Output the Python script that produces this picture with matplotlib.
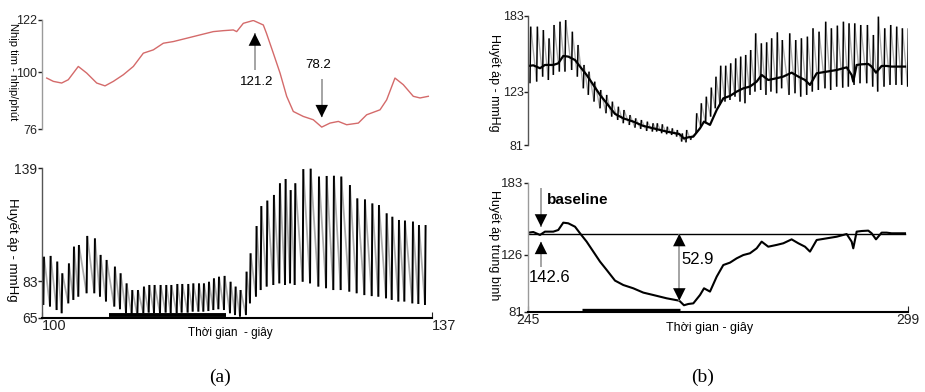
import numpy as np
import matplotlib
matplotlib.use('Agg')
import matplotlib.pyplot as plt
from matplotlib.collections import LineCollection

plt.rcParams['font.family'] = ['Liberation Sans', 'DejaVu Sans']

# (a) top: heart rate (beats/min) vs time (s)
hr_t = [100.42, 101.05, 101.84, 102.47, 103.42, 104.22, 105.17, 105.96, 106.75, 107.70,
        108.65, 109.60, 110.55, 111.50, 112.45, 113.72, 114.98, 116.25, 117.20, 118.15,
        118.47, 119.10, 120.05, 121.00, 121.30, 121.95, 122.59, 123.22, 123.85, 124.80,
        125.75, 126.55, 127.34, 128.13, 128.92, 130.03, 130.82, 132.09, 132.72, 133.51,
        134.30, 135.25, 135.89, 136.68]
hr_v = [97.5, 96.1, 95.4, 96.8, 102.4, 99.6, 95.4, 94.2, 96.1, 98.9,
        102.4, 108.0, 109.4, 112.2, 112.9, 114.3, 115.7, 117.1, 117.5, 117.8,
        117.1, 120.6, 121.8, 119.9, 116.4, 108.0, 99.6, 89.8, 83.4, 81.3,
        79.9, 76.8, 78.5, 79.2, 77.8, 78.5, 82.0, 84.1, 88.3, 97.5,
        94.7, 89.8, 89.1, 89.8]

# (a) bottom: beat onsets, systolic and diastolic pressure (mmHg)
bpa_t = [100.10, 100.73, 101.36, 101.84, 102.47, 102.95, 103.42, 104.21, 104.94, 105.48,
         106.05, 106.84, 107.38, 107.95, 108.49, 109.03, 109.60, 110.11, 110.61, 111.18,
         111.72, 112.20, 112.77, 113.24, 113.81, 114.29, 114.83, 115.30, 115.78, 116.25,
         116.73, 117.26, 117.83, 118.31, 118.78, 119.35, 119.73, 120.30, 120.75, 121.32,
         121.95, 122.52, 123.06, 123.54, 123.98, 124.74, 125.44, 126.23, 126.96, 127.65,
         128.35, 129.17, 129.87, 130.60, 131.30, 131.93, 132.66, 133.20, 133.83, 134.40,
         135.16, 135.73, 136.36]
bpa_sys = [95.2, 95.6, 92.8, 87.0, 91.9, 100.2, 101.0, 105.5, 104.3, 96.1,
           93.6, 90.3, 87.0, 82.0, 78.7, 78.7, 80.4, 81.2, 81.2, 81.2,
           81.2, 81.2, 81.7, 81.7, 81.7, 82.0, 82.0, 82.0, 82.8, 84.5,
           85.3, 85.7, 82.8, 80.4, 78.7, 87.8, 96.9, 110.4, 120.3, 123.0,
           125.8, 131.6, 133.7, 128.2, 131.6, 138.6, 138.8, 134.9, 135.2, 135.3,
           134.9, 130.7, 124.1, 123.6, 121.6, 120.8, 116.7, 115.0, 113.4, 113.1,
           112.6, 110.9, 110.9]
bpa_dia = [71.3, 70.5, 68.8, 67.2, 72.1, 73.8, 75.4, 77.1, 77.1, 75.4,
           73.0, 70.5, 69.2, 67.2, 66.3, 66.3, 67.2, 67.5, 67.2, 67.2,
           67.5, 67.2, 67.2, 67.5, 67.5, 68.0, 68.0, 68.0, 68.3, 68.8,
           69.2, 68.8, 67.2, 66.3, 65.5, 66.3, 72.1, 75.4, 78.7, 80.4,
           81.2, 82.0, 81.2, 82.0, 81.2, 82.8, 82.0, 80.4, 79.6, 78.7,
           78.7, 77.9, 77.1, 76.2, 75.7, 75.4, 74.6, 73.8, 73.0, 73.0,
           72.1, 71.8, 71.3]
bar_a = (106.3, 117.5)

# (b) top: beats
bpb_t = [245.24, 246.19, 247.04, 247.85, 248.56, 249.41, 250.21, 251.16, 251.97, 252.82,
         253.53, 254.34, 255.19, 256.04, 256.85, 257.70, 258.50, 259.36, 260.16, 260.97,
         261.82, 262.63, 263.24, 263.95, 264.66, 265.37, 266.08, 266.79, 267.41, 268.07,
         268.83, 269.49, 270.20, 270.91, 271.57, 272.24, 272.95, 273.66, 274.37, 275.08,
         275.79, 276.50, 277.21, 278.02, 278.77, 279.48, 280.29, 281.00, 282.05, 282.90,
         283.71, 284.56, 285.36, 286.22, 287.16, 287.97, 288.82, 289.68, 290.48, 291.29,
         292.14, 293.09, 293.94, 294.65, 295.55, 296.40, 297.25, 298.06, 298.91]
bpb_sys = [174.6, 174.6, 171.9, 165.3, 175.9, 178.5, 179.8, 170.6, 160.1, 144.3,
           139.0, 131.1, 124.5, 120.6, 115.3, 111.3, 108.7, 104.7, 102.1, 100.8,
           99.5, 98.2, 98.2, 97.4, 95.5, 94.2, 92.9, 90.2, 92.9, 87.6,
           106.1, 114.0, 119.2, 126.4, 135.0, 143.7, 143.7, 145.6, 149.5, 150.9,
           152.2, 156.1, 169.3, 161.4, 162.2, 165.4, 170.1, 164.0, 169.3, 164.0,
           165.4, 166.7, 173.3, 170.6, 178.5, 173.3, 175.4, 178.5, 177.2, 177.2,
           175.9, 175.9, 168.0, 182.5, 173.3, 175.9, 174.6, 173.3, 173.3]
bpb_dia = [129.8, 131.1, 135.0, 132.4, 136.4, 139.0, 139.0, 140.3, 135.0, 125.8,
           120.6, 115.3, 110.0, 106.1, 103.4, 100.8, 98.2, 96.8, 94.7, 93.7,
           92.1, 91.6, 91.6, 90.3, 89.5, 88.9, 87.6, 83.7, 83.1, 85.0,
           90.3, 95.5, 98.2, 103.4, 110.0, 112.7, 115.3, 116.6, 119.2, 115.3,
           114.0, 120.6, 123.2, 124.5, 120.6, 123.2, 121.9, 125.8, 120.6, 121.9,
           119.2, 120.6, 123.2, 124.5, 125.8, 124.5, 127.1, 126.3, 127.1, 128.5,
           129.8, 129.8, 127.1, 123.2, 127.1, 128.5, 128.5, 128.5, 127.1]

# (b) mean arterial pressure
map_t = [245.0, 245.71, 246.66, 247.37, 248.55, 249.26, 249.97, 250.68, 251.64, 252.35,
         253.29, 254.24, 255.19, 256.14, 257.32, 258.50, 259.92, 261.34, 262.76, 264.66,
         266.46, 267.12, 267.74, 268.45, 269.40, 269.97, 270.82, 271.77, 272.71, 273.66,
         274.61, 275.55, 276.50, 277.45, 278.16, 279.10, 280.29, 281.24, 282.42, 283.37,
         284.32, 285.03, 285.98, 287.40, 288.82, 290.24, 290.95, 291.18, 291.66, 292.37,
         293.31, 293.79, 294.41, 295.21, 295.92, 296.63, 297.82, 298.53]
map_v = [143.5, 144.0, 141.7, 144.3, 144.3, 145.6, 151.4, 150.9, 148.2, 143.0,
         136.4, 128.5, 120.6, 114.0, 105.6, 102.1, 99.5, 96.1, 94.2, 91.6,
         89.7, 86.1, 87.1, 87.6, 94.2, 99.5, 96.9, 108.7, 117.9, 119.8,
         123.2, 125.8, 127.2, 131.1, 136.4, 132.4, 133.8, 135.1, 138.2, 135.1,
         132.4, 128.5, 137.7, 139.0, 140.3, 142.4, 136.4, 131.1, 144.3, 144.8,
         145.1, 143.0, 138.2, 143.5, 143.5, 143.0, 143.0, 143.0]
baseline = 142.6
drop = 52.9
bar_b = (252.6, 266.5)

W, H = 925, 392
fig = plt.figure(figsize=(W / 100, H / 100), dpi=100)


def px_axes(x0, y0, x1, y1):
    # axes box given in pixel coords (top-left origin)
    return fig.add_axes([x0 / W, 1 - y1 / H, (x1 - x0) / W, (y1 - y0) / H])


def ftext(x, y, s, **kw):
    fig.text(x / W, 1 - y / H, s, **kw)


def beats(ax, t, sys_, dia, up, lw=1.4):
    rise = [[(t[i], dia[i]), (t[i] + up, sys_[i])] for i in range(len(t))]
    fall = [[(t[i] + up, sys_[i]), (t[i + 1], dia[i + 1])] for i in range(len(t) - 1)]
    ax.add_collection(LineCollection(fall, colors='#ababab', linewidths=lw * 0.9))
    ax.add_collection(LineCollection(rise, colors='black', linewidths=lw))


def arrow(ax, x, tail, tip, both=False):
    ax.plot([x, x], [tail, tip], color='#8c8c8c', lw=1.1, solid_capstyle='butt')
    style = '<|-|>' if both else '-|>'
    ax.annotate('', xy=(x, tip), xytext=(x, tail),
                arrowprops=dict(arrowstyle=style + ',head_length=0.9,head_width=0.45',
                                color='black', lw=0, shrinkA=0, shrinkB=0))


def style_axes(ax, spine_col, ysize, bottom=False):
    for s in ['top', 'right']:
        ax.spines[s].set_visible(False)
    ax.spines['left'].set_color(spine_col)
    ax.spines['left'].set_linewidth(1.0)
    if bottom:
        ax.spines['bottom'].set_color('black')
        ax.spines['bottom'].set_linewidth(1.5)
    else:
        ax.spines['bottom'].set_visible(False)
        ax.set_xticks([])
    ax.tick_params(axis='y', direction='out', length=3, width=1, pad=0.5,
                   labelsize=ysize, colors='#222222')
    ax.patch.set_alpha(0)


# ---- (a) top
ax1 = px_axes(42.3, 20, 431.7, 129)
ax1.plot(hr_t, hr_v, color='#d46a6a', lw=1.0)
ax1.set_xlim(100, 137)
ax1.set_ylim(76, 122)
ax1.set_yticks([76, 100, 122])
style_axes(ax1, '#9a9a9a', 9)
arrow(ax1, 120.2, 100.9, 116.4)
arrow(ax1, 126.55, 97.0, 80.9)
ax1.text(120.37, 96.0, '121.2', ha='center', va='center', fontsize=9.5)
ax1.text(126.23, 103.0, '78.2', ha='center', va='center', fontsize=9.5)

# ---- (a) bottom
ax2 = px_axes(42.3, 168.3, 431.7, 317.7)
beats(ax2, bpa_t, bpa_sys, bpa_dia, 0.06)
ax2.plot(bar_a, [66.2, 66.2], color='black', lw=2.8, solid_capstyle='butt')
ax2.set_xlim(100, 137)
ax2.set_ylim(65, 139)
ax2.set_yticks([65, 83, 139])
style_axes(ax2, '#555555', 10, bottom=True)
ax2.set_xticks([100, 137])
ax2.tick_params(axis='x', direction='in', length=4, pad=1, labelsize=10.5, colors='#222222')
for lab in ax2.get_xticklabels():
    lab.set_ha('left')

# ---- (b) top
ax3 = px_axes(528.3, 16, 908.3, 145)
beats(ax3, bpb_t, bpb_sys, bpb_dia, 0.1, lw=1.1)
ax3.plot(map_t, map_v, color='black', lw=1.6)
ax3.set_xlim(245, 299)
ax3.set_ylim(81, 183)
ax3.set_yticks([81, 123, 183])
style_axes(ax3, '#555555', 9)

# ---- (b) bottom
ax4 = px_axes(528.3, 182.7, 908.3, 311.7)
ax4.axhline(baseline, color='black', lw=1.0, xmax=0.99)
ax4.plot(map_t, map_v, color='black', lw=1.5)
ax4.plot(bar_b, [82.4, 82.4], color='black', lw=2.4, solid_capstyle='butt')
ax4.set_xlim(245, 299)
ax4.set_ylim(81, 183)
ax4.set_yticks([81, 126, 183])
style_axes(ax4, '#9a9a9a', 9.5, bottom=True)
ax4.set_xticks([245, 299])
ax4.tick_params(axis='x', direction='in', length=4, pad=1, labelsize=10, colors='#222222')
arrow(ax4, 246.8, 178.6, 148.2)
arrow(ax4, 246.8, 116.6, 136.4)
arrow(ax4, 266.46, baseline - drop, baseline, both=True)
ax4.text(247.7, 169.3, 'baseline', ha='left', va='center', fontsize=11, fontweight='bold')
ax4.text(248.0, 107.7, '142.6', ha='center', va='center', fontsize=12)
ax4.text(269.1, 121.9, '52.9', ha='center', va='center', fontsize=12)

# ---- axis labels
ftext(13, 72, 'Nhịp tim - nhịp/phút', rotation=270, ha='center', va='center', fontsize=8)
ftext(12, 250, 'Huyết áp - mmHg', rotation=270, ha='center', va='center', fontsize=9.5)
ftext(230, 333, 'Thời gian  - giây', ha='center', va='center', fontsize=8.5)
ftext(495, 83, 'Huyết áp - mmHg', rotation=270, ha='center', va='center', fontsize=9)
ftext(495, 245, 'Huyết áp trung bình', rotation=270, ha='center', va='center', fontsize=9)
ftext(710, 328, 'Thời gian - giây', ha='center', va='center', fontsize=9)

ftext(220, 377, '(a)', ha='center', va='center', fontsize=14, family='Liberation Serif')
ftext(703, 377, '(b)', ha='center', va='center', fontsize=14, family='Liberation Serif')

fig.savefig('out.png', dpi=100)
